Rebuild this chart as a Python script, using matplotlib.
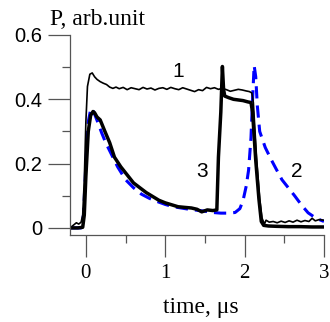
import matplotlib
matplotlib.use('Agg')
import matplotlib.pyplot as plt
from matplotlib.ticker import MultipleLocator

# curve 1 (thin black)
t1 = [-0.20, -0.16, -0.12, -0.09, -0.06, -0.04, -0.02, 0.00, 0.02, 0.05, 0.08, 0.11, 0.14, 0.18,
      0.22, 0.26, 0.30, 0.34, 0.38, 0.42, 0.47, 0.52, 0.57, 0.62, 0.67, 0.72, 0.77, 0.82, 0.87,
      0.92, 0.97, 1.02, 1.07, 1.12, 1.17, 1.22, 1.27, 1.32, 1.37, 1.42, 1.47, 1.52, 1.57, 1.62,
      1.67, 1.72, 1.77, 1.82, 1.87, 1.92, 1.97, 2.02, 2.06, 2.09, 2.11, 2.15, 2.19, 2.22, 2.25,
      2.27, 2.31, 2.36, 2.41, 2.46, 2.51, 2.56, 2.61, 2.66, 2.71, 2.76, 2.81, 2.85, 2.89, 2.94, 3.00]
p1 = [0.000, 0.008, 0.016, 0.012, 0.018, 0.040, 0.150, 0.330, 0.440, 0.478, 0.482, 0.470, 0.462,
      0.455, 0.450, 0.446, 0.438, 0.434, 0.438, 0.433, 0.437, 0.430, 0.436, 0.433, 0.430, 0.437,
      0.432, 0.435, 0.429, 0.434, 0.436, 0.431, 0.437, 0.433, 0.430, 0.436, 0.432, 0.428, 0.424,
      0.430, 0.427, 0.437, 0.433, 0.436, 0.431, 0.434, 0.430, 0.425, 0.428, 0.431, 0.429, 0.426,
      0.424, 0.420, 0.390, 0.220, 0.090, 0.030, 0.012, 0.024, 0.018, 0.020, 0.016, 0.021, 0.017,
      0.022, 0.018, 0.024, 0.019, 0.023, 0.020, 0.030, 0.022, 0.026, 0.024]

# curve 2 (blue dashed)
t2 = [-0.20, -0.06, -0.03, 0.00, 0.03, 0.06, 0.08, 0.10, 0.14, 0.20, 0.25, 0.30, 0.40, 0.50,
      0.60, 0.70, 0.80, 0.90, 1.00, 1.10, 1.20, 1.30, 1.40, 1.50, 1.60, 1.70, 1.80, 1.88, 1.94,
      1.98, 2.02, 2.05, 2.08, 2.10, 2.12, 2.14, 2.16, 2.19, 2.26, 2.34, 2.40, 2.47, 2.55, 2.63,
      2.72, 2.80, 2.90, 3.00]
p2 = [0.000, 0.000, 0.040, 0.200, 0.330, 0.368, 0.372, 0.360, 0.335, 0.295, 0.265, 0.240, 0.190,
      0.150, 0.125, 0.105, 0.092, 0.082, 0.073, 0.066, 0.062, 0.058, 0.055, 0.052, 0.048, 0.046,
      0.046, 0.048, 0.060, 0.085, 0.130, 0.180, 0.280, 0.400, 0.505, 0.470, 0.380, 0.300, 0.250,
      0.210, 0.182, 0.150, 0.125, 0.100, 0.070, 0.047, 0.030, 0.020]

# curve 3 (thick black)
t3 = [-0.20, -0.10, -0.04, -0.02, 0.00, 0.03, 0.06, 0.09, 0.11, 0.14, 0.18, 0.24, 0.30, 0.36,
      0.44, 0.52, 0.60, 0.68, 0.76, 0.84, 0.92, 1.00, 1.08, 1.16, 1.24, 1.33, 1.40, 1.46, 1.53,
      1.60, 1.65, 1.67, 1.70, 1.72, 1.735, 1.75, 1.80, 1.86, 1.92, 1.98, 2.04, 2.08, 2.10, 2.14,
      2.18, 2.21, 2.24, 2.30, 2.40, 2.55, 2.70, 2.85, 3.00]
p3 = [0.000, 0.000, 0.002, 0.040, 0.160, 0.300, 0.350, 0.362, 0.358, 0.345, 0.336, 0.300, 0.265,
      0.220, 0.190, 0.165, 0.140, 0.125, 0.110, 0.098, 0.086, 0.078, 0.072, 0.066, 0.064, 0.062,
      0.058, 0.050, 0.056, 0.054, 0.056, 0.220, 0.360, 0.502, 0.430, 0.410, 0.405, 0.400, 0.398,
      0.396, 0.392, 0.390, 0.360, 0.210, 0.090, 0.020, 0.008, 0.006, 0.005, 0.004, 0.004, 0.003, 0.003]

labels = ['1', '2', '3']
label_x = [1.16, 2.66, 1.47]
label_y = [0.485, 0.174, 0.174]

yticks = [0, 0.2, 0.4, 0.6]
ytick_labels = ['0', '0.2', '0.4', '0.6']

fig = plt.figure(figsize=(3.3, 3.22), dpi=100)
ax = fig.add_axes([70/330, 1 - 235/322, 254/330, 200/322])

ax.plot(t2, p2, color='#0000ff', lw=2.2, dashes=(4, 2.3))
ax.plot(t1, p1, color='black', lw=1.2)
ax.plot(t3, p3, color='black', lw=2.5)

for s, x, y in zip(labels, label_x, label_y):
    ax.text(x, y, s, fontsize=15, family='Liberation Sans', ha='center', va='center')

ax.set_xlim(-0.2, 3.0)
ax.set_ylim(-0.022, 0.6)
ax.xaxis.set_major_locator(MultipleLocator(1))
ax.xaxis.set_minor_locator(MultipleLocator(0.5))
ax.set_yticks(yticks)
ax.set_yticklabels(ytick_labels)
ax.yaxis.set_minor_locator(MultipleLocator(0.1))

for sp in ['top', 'right']:
    ax.spines[sp].set_visible(False)
for sp in ['left', 'bottom']:
    ax.spines[sp].set_color('#555555')
    ax.spines[sp].set_linewidth(0.9)

ax.xaxis.set_tick_params(which='major', length=16, width=0.9, color='#555555', direction='out', pad=5)
ax.xaxis.set_tick_params(which='minor', length=6, width=0.9, color='#555555', direction='out')
ax.yaxis.set_tick_params(which='major', length=16, width=0.9, color='#555555', direction='out', pad=4)
ax.yaxis.set_tick_params(which='minor', length=6, width=0.9, color='#555555', direction='out')

for lab in ax.get_yticklabels():
    lab.set_family('Liberation Sans')
    lab.set_fontsize(14.5)
for lab in ax.get_xticklabels():
    lab.set_family('Liberation Serif')
    lab.set_fontsize(15)

fig.text(50/330, 1 - 25/322, 'P, arb.unit', family='Liberation Serif', fontsize=17,
         ha='left', va='baseline')
fig.text(201/330, 1 - 313/322, 'time, μs', family='Liberation Serif', fontsize=17,
         ha='center', va='baseline')

fig.savefig('out.png', dpi=100)
